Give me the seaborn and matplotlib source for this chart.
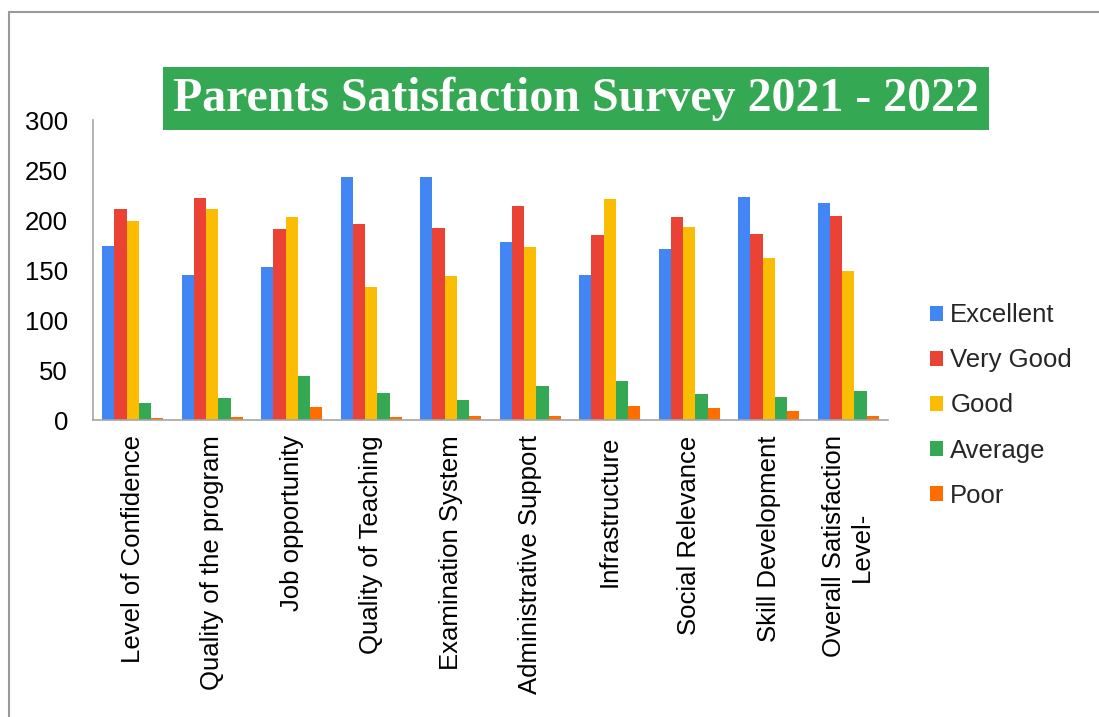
import matplotlib
matplotlib.use("Agg")

import matplotlib.pyplot as plt
import seaborn as sns
import pandas as pd
from matplotlib.patches import Rectangle, Patch
from matplotlib.lines import Line2D

# =========================================================
# DATA
# =========================================================

aspects = [
    "Level of Confidence",
    "Quality of the program",
    "Job opportunity",
    "Quality of Teaching",
    "Examination System",
    "Administrative Support",
    "Infrastructure",
    "Social Relevance",
    "Skill Development",
    "Overall Satisfaction\nLevel-",
]

ratings = ["Excellent", "Very Good", "Good", "Average", "Poor"]

excellent = [174, 145, 153, 243, 243, 178, 145, 171, 223, 217]
very_good = [211, 222, 191, 196, 192, 214, 185, 203, 186, 204]
good = [199, 211, 203, 133, 144, 173, 221, 193, 162, 149]
average = [17, 22, 44, 27, 20, 34, 39, 26, 23, 29]
poor = [2, 3, 13, 3, 4, 4, 14, 12, 9, 4]

colors = ["#4285F4", "#EA4335", "#FBBC04", "#34A853", "#FF6D01"]

# =========================================================
# LONG FORMAT TABLE
# =========================================================

series = [excellent, very_good, good, average, poor]

rows = []
for rating, values in zip(ratings, series):
    for aspect, v in zip(aspects, values):
        rows.append({"Aspect": aspect, "Rating": rating, "Count": v})

df = pd.DataFrame(rows)

# =========================================================
# PLOT
# =========================================================

sns.set_theme(style="white")
plt.rcParams["font.family"] = ["Liberation Sans", "DejaVu Sans"]

fig = plt.figure(figsize=(10.99, 7.17), dpi=100)
ax = fig.add_axes([0.0846, 0.414, 0.7234, 0.4186])

sns.barplot(
    data=df,
    x="Aspect",
    y="Count",
    hue="Rating",
    hue_order=ratings,
    palette=colors,
    saturation=1,
    width=0.77,
    linewidth=0,
    errorbar=None,
    ax=ax,
)

ax.set_ylim(0, 300)
ax.set_yticks([0, 50, 100, 150, 200, 250, 300])
ax.set_xlabel("")
ax.set_ylabel("")

ax.tick_params(axis="y", length=0, pad=18, labelsize=18.5, labelcolor="black")
ax.tick_params(axis="x", length=0, pad=11, labelsize=18.5, labelcolor="black")
plt.setp(ax.get_xticklabels(), rotation=90, ha="center", va="top",
         multialignment="center")

for side in ["top", "right"]:
    ax.spines[side].set_visible(False)
for side in ["left", "bottom"]:
    ax.spines[side].set_color("#a6a6a6")
    ax.spines[side].set_linewidth(1.2)

ax.legend_.remove()

# Legend
handles = [Patch(facecolor=c, edgecolor="none") for c in colors]
fig.legend(
    handles,
    ratings,
    loc="center left",
    bbox_to_anchor=(0.846, 0.4345),
    frameon=False,
    fontsize=18.5,
    handlelength=0.5,
    handleheight=0.5,
    handletextpad=0.3,
    labelspacing=0.82,
    borderpad=0,
    borderaxespad=0,
)

# Title box
fig.patches.append(
    Rectangle(
        (163 / 1099, 1 - 130 / 717),
        826 / 1099,
        63 / 717,
        transform=fig.transFigure,
        facecolor="#34A853",
        edgecolor="none",
        zorder=0,
    )
)
fig.text(
    576 / 1099,
    1 - 98.5 / 717,
    "Parents Satisfaction Survey 2021 - 2022",
    ha="center",
    va="center",
    fontsize=34.5,
    fontweight="bold",
    color="white",
    family=["Liberation Serif", "DejaVu Serif"],
)

# Outer frame (top and left edges)
fig.add_artist(Line2D([9 / 1099, 1], [1 - 12 / 717, 1 - 12 / 717],
                      transform=fig.transFigure, color="#999999", lw=1.5))
fig.add_artist(Line2D([9 / 1099, 9 / 1099], [0, 1 - 12 / 717],
                      transform=fig.transFigure, color="#999999", lw=1.5))

fig.savefig("out.png", dpi=100)
plt.close(fig)
